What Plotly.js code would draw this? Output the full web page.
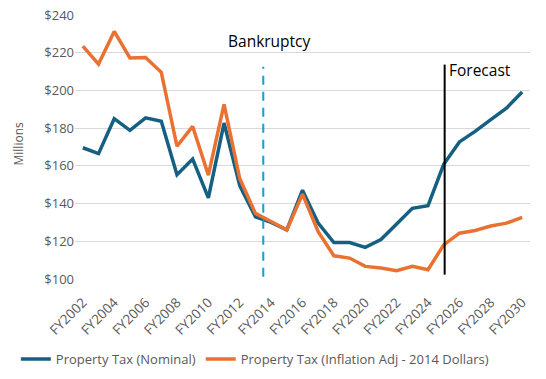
<!DOCTYPE html>
<html>
<head>
<meta charset="utf-8">
<script src="https://cdn.plot.ly/plotly-3.0.1.min.js"></script>
<style>html,body{margin:0;padding:0;background:#fff;}#chart{width:546px;height:379px;}</style>
</head>
<body>
<div id="chart"></div>
<script>
const years = ["FY2002","FY2003","FY2004","FY2005","FY2006","FY2007","FY2008","FY2009","FY2010","FY2011","FY2012","FY2013","FY2014","FY2015","FY2016","FY2017","FY2018","FY2019","FY2020","FY2021","FY2022","FY2023","FY2024","FY2025","FY2026","FY2027","FY2028","FY2029","FY2030"];
const nominal = [169.6,166.5,185,178.8,185.5,183.7,155.3,163.6,143,182.7,149.5,133,130,126,147.1,129.6,119.3,119.3,116.8,120.9,129.2,137.5,138.9,160.8,172.7,178.3,184.5,190.6,199.2];
const adjusted = [223.5,214,231.3,217.2,217.5,209.6,170.4,180.9,155.1,192.6,153.3,134.8,130.5,126,145,125.1,112.3,111.1,106.7,105.8,104.4,106.7,104.9,118.1,124.3,125.7,128.1,129.6,132.7];
const tickYears = ["FY2002","FY2004","FY2006","FY2008","FY2010","FY2012","FY2014","FY2016","FY2018","FY2020","FY2022","FY2024","FY2026","FY2028","FY2030"];
const yTicks = [100,120,140,160,180,200,220,240];
const yTickText = ["$100","$120","$140","$160","$180","$200","$220","$240"];
const seriesNames = ["Property Tax (Nominal)","Property Tax (Inflation Adj - 2014 Dollars)"];
const yAxisLabel = "Millions";
const bankruptcyLabel = "Bankruptcy";
const forecastLabel = "Forecast";
const bankruptcyPos = 11.5;
const forecastPos = 23.06;

const FONT = "'Open Sans', 'Noto Sans', sans-serif";
const traces = [
  {x: years, y: nominal, name: seriesNames[0], type: "scatter", mode: "lines",
   line: {color: "#156082", width: 3.5}},
  {x: years, y: adjusted, name: seriesNames[1], type: "scatter", mode: "lines",
   line: {color: "#E97132", width: 3.5}}
];
const layout = {
  width: 546, height: 379,
  margin: {l: 75, r: 16, t: 15, b: 100, autoexpand: false},
  paper_bgcolor: "#fff", plot_bgcolor: "#fff",
  showlegend: true,
  font: {family: FONT, color: "#595959", size: 13},
  xaxis: {type: "category", range: [-0.5, 28.5], tickmode: "array", tickvals: tickYears, ticktext: tickYears,
          tickangle: -45, showgrid: false, showline: false, zeroline: false, ticks: "", automargin: false,
          ticklabelstandoff: 12,
          tickfont: {size: 13.5, color: "#595959", family: FONT}, fixedrange: true},
  yaxis: {range: [100, 240], tickmode: "array", tickvals: yTicks, ticktext: yTickText, automargin: false,
          showgrid: true, gridcolor: "#D9D9D9", gridwidth: 1, zeroline: false, showline: false, ticks: "",
          tickfont: {size: 13, color: "#595959", family: FONT}},
  legend: {orientation: "h", x: -0.13, xanchor: "left", y: -0.303, yanchor: "middle",
           font: {size: 13, color: "#595959", family: FONT}, itemwidth: 30, tracegroupgap: 0},
  shapes: [
    {type: "line", xref: "x", yref: "y", x0: bankruptcyPos, x1: bankruptcyPos, y0: 101.2, y1: 212.6,
     line: {color: "#0F9ED5", width: 2, dash: "9px,7px"}},
    {type: "line", xref: "x", yref: "y", x0: forecastPos, x1: forecastPos, y0: 102.3, y1: 213.7,
     line: {color: "#000000", width: 2}}
  ],
  annotations: [
    {text: bankruptcyLabel, xref: "x", yref: "y", x: 11.9, y: 226, showarrow: false,
     font: {size: 15.5, color: "#000", family: FONT}, xanchor: "center", yanchor: "middle"},
    {text: forecastLabel, xref: "x", yref: "y", x: 23.2, y: 210.8, showarrow: false,
     font: {size: 15.5, color: "#000", family: FONT}, xanchor: "left", yanchor: "middle"},
    {text: yAxisLabel, xref: "paper", yref: "paper", x: -0.125, y: 0.51, textangle: -90, showarrow: false,
     font: {size: 12, color: "#595959", family: FONT}, xanchor: "center", yanchor: "middle"}
  ]
};
Plotly.newPlot("chart", traces, layout, {displayModeBar: false, staticPlot: true});
</script>
</body>
</html>
